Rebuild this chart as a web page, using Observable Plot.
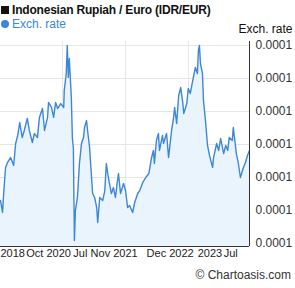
<!DOCTYPE html>
<html><head><meta charset="utf-8">
<script src="https://cdn.jsdelivr.net/npm/d3@7"></script>
<script src="https://cdn.jsdelivr.net/npm/@observablehq/plot@0.6"></script>
<style>
body{margin:0;background:#fff;font-family:"Liberation Sans",Arial,sans-serif;}
#wrap{position:relative;width:295px;height:288px;overflow:hidden;}
#title{position:absolute;left:1px;top:3px;font-size:12px;font-weight:bold;color:#111;white-space:nowrap;letter-spacing:-0.2px}
#title .sq{display:inline-block;width:8px;height:8px;background:#111;margin-right:3px;vertical-align:0px}
#legend{position:absolute;left:1px;top:17px;font-size:12px;color:#3d86d8;white-space:nowrap}
#legend .dot{display:inline-block;width:8px;height:8px;border-radius:50%;background:#3d86d8;margin-right:3px;vertical-align:0px}
#copy{position:absolute;right:4px;top:268px;font-size:12px;color:#333;white-space:nowrap}
#chart{position:absolute;left:0;top:0}
</style></head>
<body>
<div id="wrap">
<div id="chart"></div>
<div id="title"><span class="sq"></span>Indonesian Rupiah / Euro (IDR/EUR)</div>
<div id="legend"><span class="dot"></span>Exch. rate</div>
<div id="copy">© Chartoasis.com</div>
</div>
<script>
// time as decimal years, rate in units of 1e-6 EUR per IDR
const times = [2018.75,2018.79,2018.81,2018.85,2018.89,2018.95,2019.01,2019.05,2019.09,2019.13,2019.18,2019.22,2019.28,2019.32,2019.38,2019.42,2019.48,2019.52,2019.58,2019.62,2019.68,2019.70,2019.76,2019.80,2019.84,2019.88,2019.94,2020.00,2020.01,2020.05,2020.07,2020.09,2020.11,2020.15,2020.17,2020.19,2020.21,2020.23,2020.27,2020.31,2020.35,2020.39,2020.41,2020.45,2020.47,2020.51,2020.53,2020.57,2020.61,2020.65,2020.67,2020.71,2020.77,2020.81,2020.84,2020.88,2020.94,2020.98,2021.02,2021.06,2021.08,2021.12,2021.18,2021.22,2021.26,2021.30,2021.36,2021.40,2021.46,2021.50,2021.56,2021.62,2021.68,2021.73,2021.77,2021.79,2021.83,2021.87,2021.89,2021.95,2021.97,2022.03,2022.07,2022.13,2022.17,2022.19,2022.23,2022.27,2022.31,2022.35,2022.37,2022.43,2022.46,2022.50,2022.56,2022.60,2022.64,2022.66,2022.68,2022.70,2022.74,2022.76,2022.80,2022.84,2022.88,2022.94,2022.96,2023.02,2023.06,2023.10,2023.16,2023.20,2023.24,2023.27,2023.33,2023.35,2023.41,2023.45,2023.49,2023.55,2023.59,2023.63,2023.67];
const rates = [58.61,57.88,58.91,60.61,60.91,61.21,60.73,62.06,62.55,63.33,62.42,62.85,63.58,62.85,62.12,62.67,62.42,63.64,64.18,62.85,63.64,64.55,64.24,63.64,64.55,64.18,64.48,64.24,65.27,66.30,68.00,66.06,67.21,64.85,62.42,61.76,56.18,58.00,58.79,60.85,62.06,62.42,63.03,63.45,62.85,61.82,60.85,59.03,58.79,58.18,57.27,58.79,58.61,59.21,60.85,60.00,59.03,59.39,58.79,59.82,60.24,59.03,59.64,59.21,58.18,58.30,57.88,58.48,59.03,59.21,59.70,60.00,60.24,61.15,61.64,60.85,62.24,62.67,61.64,62.55,62.06,62.67,61.21,62.85,63.64,64.24,63.27,64.97,65.45,64.55,63.88,64.48,65.39,65.09,66.06,66.67,66.30,67.70,68.00,66.91,66.30,64.67,63.45,61.94,61.33,60.61,61.21,62.06,61.64,62.36,61.45,61.94,61.64,62.42,62.24,63.03,61.45,60.85,60.00,60.61,60.91,61.33,61.64];
const yTicks = [56,58,60,62,64,66,68];
const xGrid = [2019.975,2021.22,2022.465];
const xTickTimes = [2018.75,2019.26,2020.19,2020.53,2021.635,2022.645,2023.16];
const xTickLabels = ["2018","Oct 2020","Jul","Nov 2021","Dec 2022","2023","Jul"];
const xDomain = [2018.75,2023.67];
const yDomain = [55.82,68.24];

function dy2date(t){const y=Math.floor(t);const a=new Date(y,0,1),b=new Date(y+1,0,1);return new Date(+a+(t-y)*(b-a));}
const data = times.map((t,i)=>({date:dy2date(t),v:rates[i]}));
const ticks = xTickTimes.map((t,i)=>({date:dy2date(t),label:xTickLabels[i]}));
const blue="#3d86d8";
const chart = Plot.plot({
  width:295,height:288,
  marginLeft:0,marginRight:46,marginTop:41,marginBottom:42,
  style:{fontFamily:"Liberation Sans, Arial, sans-serif",fontSize:"12px",color:"#333",background:"transparent"},
  x:{type:"time",domain:xDomain.map(dy2date),axis:null},
  y:{domain:yDomain,axis:null},
  marks:[
    Plot.ruleY(yTicks,{stroke:"#e6e6e6",strokeWidth:1}),
    Plot.ruleX(xGrid.map(dy2date),{stroke:"#e6e6e6",strokeWidth:1}),
    Plot.areaY(data,{x:"date",y1:()=>yDomain[0],y2:"v",fill:"#eaf4fd"}),
    Plot.line(data,{x:"date",y:"v",stroke:blue,strokeWidth:1.4}),
    Plot.ruleY([yDomain[0]],{stroke:"#333",strokeWidth:1}),
    Plot.ruleX([dy2date(xDomain[1])],{stroke:"#333",strokeWidth:1}),
    Plot.axisY(yTicks,{anchor:"right",tickSize:0,tickPadding:6,tickFormat:d=>(d*1e-6).toFixed(4),fill:"#333",fontSize:12,label:null}),
    Plot.text(ticks,{x:"date",text:"label",frameAnchor:"bottom",textAnchor:"start",dy:3,lineAnchor:"top",fill:"#222",fontSize:11}),
    Plot.text(["Exch. rate"],{frameAnchor:"top-right",dx:43,dy:-12,textAnchor:"end",lineAnchor:"middle",fill:"#111",fontSize:12})
  ]
});
document.getElementById("chart").appendChild(chart);
</script>
</body></html>
